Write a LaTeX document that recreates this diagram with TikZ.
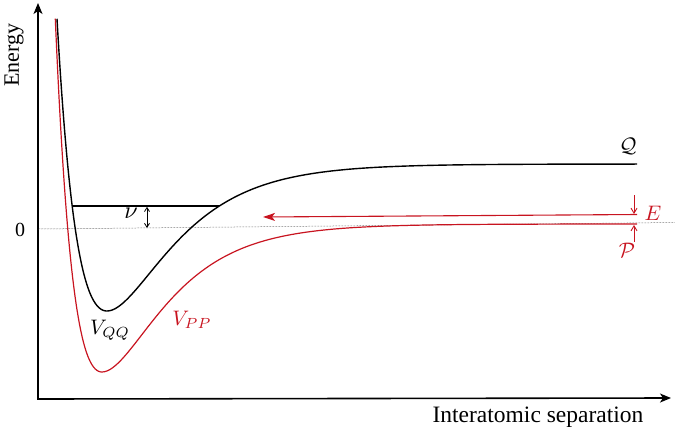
\documentclass[tikz,border=0pt]{standalone}
\usepackage{fontspec}
\setmainfont{Liberation Serif}
\usetikzlibrary{arrows.meta}
\definecolor{pred}{RGB}{200,20,32}
\tikzset{
  axis/.style={line width=1.6pt,-{Stealth[length=11pt,width=9pt,inset=3pt]}},
  qcurve/.style={line width=1.4pt,black},
  pcurve/.style={line width=1.2pt,pred},
  zeroline/.style={line width=0.5pt,densely dotted,black!80},
  levelline/.style={line width=1.8pt,black},
  small/.style={line width=0.8pt,{Straight Barb[length=4pt,width=5pt]}-{Straight Barb[length=4pt,width=5pt]}},
  smallred/.style={line width=0.9pt,pred,-{Straight Barb[length=5pt,width=6pt]}},
  bigred/.style={line width=1.1pt,pred,-{Stealth[length=12pt,width=8pt,inset=3pt]}},
  mlabel/.style={scale=2.1,inner sep=0pt},
  nulabel/.style={scale=2.4,inner sep=0pt},
}
\begin{document}
\begin{tikzpicture}[x=1pt,y=-1pt]
\useasboundingbox (0,0) rectangle (675,432);
% axes
\coordinate (O) at (38,399);
\coordinate (ytop) at (38,3);
\coordinate (xend) at (671,398);
\draw[axis] (O) -- (ytop);
\draw[axis] ([xshift=-0.8pt]O) -- (xend);
% zero line
\coordinate (zl) at (38,229);
\coordinate (zr) at (675,222.5);
\draw[zeroline] (zl) -- (zr);
% curves
\draw[pcurve] plot[domain=55.3:102,samples=120] (\x,{224-148*((1-exp(-0.02*(\x-102)))^2-1)})
  -- plot[domain=102:637,samples=200] (\x,{224-148*((1-exp(-0.0175*(\x-102)))^2-1)});
\draw[qcurve] plot[domain=57:107,samples=120] (\x,{164-147*((1-exp(-0.0176*(\x-107)))^2-1)})
  -- plot[domain=107:637,samples=200] (\x,{164-147*((1-exp(-0.0166*(\x-107)))^2-1)});
% level line
\coordinate (lvlL) at (72.2,206);
\coordinate (lvlR) at (219.3,206);
\draw[levelline] (lvlL) -- (lvlR);
\coordinate (nuT) at (147,206.8);
\coordinate (nuB) at (147,228);
\draw[small] (nuT) -- (nuB);
% E arrows
\coordinate (Es) at (637,214.5);
\coordinate (Et) at (263,217);
\draw[bigred] (Es) -- (Et);
\coordinate (dA) at (634,195);
\coordinate (dB) at (634,214);
\draw[smallred] (dA) -- (dB);
\coordinate (uA) at (634,242);
\coordinate (uB) at (634,225);
\draw[smallred] (uA) -- (uB);
% labels
\node[mlabel] (Q) at (628,146) {$\mathcal{Q}$};
\node[mlabel,text=pred] (E) at (653,213) {$E$};
\node[mlabel,text=pred] (P) at (627,250) {$\mathcal{P}$};
\node[nulabel] (nu) at (131,213) {$\nu$};
\node[mlabel] (VQQ) at (110,330) {$V_{QQ}$};
\node[mlabel,text=pred] (VPP) at (192,320) {$V_{PP}$};
\node[inner sep=0pt,font=\fontsize{20}{24}\selectfont] (zero) at (20,230) {0};
\node[inner sep=0pt,rotate=90,font=\fontsize{22}{26}\selectfont] (en) at (14,55) {Energy};
\node[inner sep=0pt,font=\fontsize{23.5}{28}\selectfont] (xl) at (538,417) {Interatomic separation};
\end{tikzpicture}
\end{document}
